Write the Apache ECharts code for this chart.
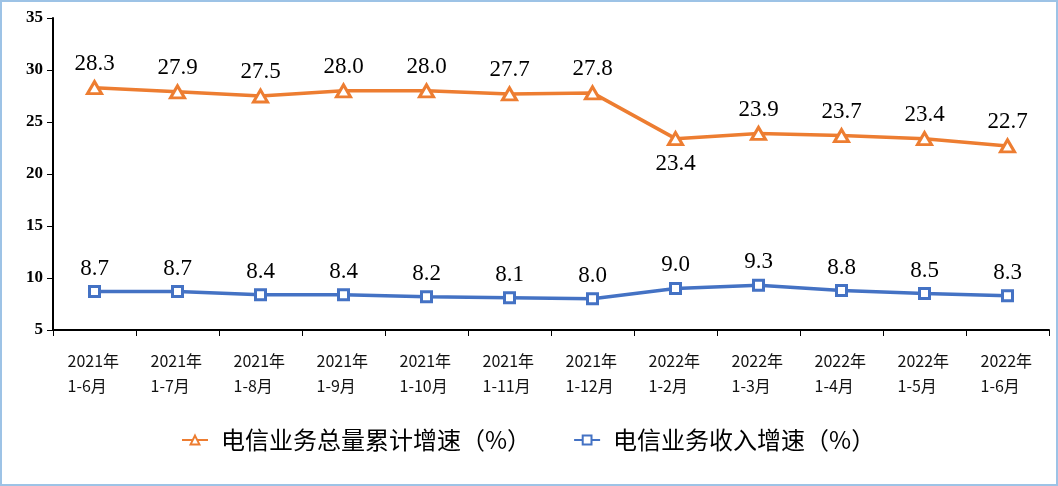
<!DOCTYPE html>
<html><head><meta charset="utf-8">
<script src="https://cdn.jsdelivr.net/npm/echarts@6/dist/echarts.min.js"></script>
<style>html,body{margin:0;padding:0;background:#fff}#c{width:1058px;height:486px;position:relative}#b{position:absolute;left:0;top:0;width:1058px;height:486px;box-sizing:border-box;border:2px solid #9DC3E6;pointer-events:none}</style>
</head><body><div id="c"></div><div id="b"></div>
<script>
const years = ['2021年','2021年','2021年','2021年','2021年','2021年','2021年','2022年','2022年','2022年','2022年','2022年'];
const periods = ['1-6月','1-7月','1-8月','1-9月','1-10月','1-11月','1-12月','1-2月','1-3月','1-4月','1-5月','1-6月'];
const totalGrowth = [28.3,27.9,27.5,28.0,28.0,27.7,27.8,23.4,23.9,23.7,23.4,22.7];
const revenueGrowth = [8.7,8.7,8.4,8.4,8.2,8.1,8.0,9.0,9.3,8.8,8.5,8.3];
const seriesNames = ['电信业务总量累计增速（%）','电信业务收入增速（%）'];
const categories = years.map((y,i)=>y+'\n'+periods[i]);

const chart = echarts.init(document.getElementById('c'));
const labelStyle = {show:true, position:'top', distance:5, fontFamily:'"Liberation Serif","Times New Roman",serif', fontSize:23, color:'#000', formatter:p=>p.value.toFixed(1)};
chart.setOption({
  animation:false,
  grid:{left:53,right:9,top:18,bottom:156},
  legend:{top:423,left:176,itemGap:42,itemWidth:26,itemHeight:11,
    textStyle:{fontFamily:'"Noto Sans CJK SC",sans-serif',fontSize:24,color:'#000',padding:[0,0,0,8]},
    data:seriesNames},
  xAxis:{type:'category',data:categories,boundaryGap:true,
    axisLine:{lineStyle:{color:'#000',width:2}},
    axisTick:{show:true,length:6,lineStyle:{color:'#000',width:1}},
    axisLabel:{margin:18,interval:0,
      formatter:v=>{const s=v.split('\n');return '{a|'+s[0]+'}\n{a|'+s[1]+'}';},
      rich:{a:{width:54,align:'left',fontFamily:'"Noto Sans CJK SC",sans-serif',fontSize:16,color:'#111',lineHeight:25}}}},
  yAxis:{type:'value',min:5,max:35,interval:5,
    axisLine:{show:true,lineStyle:{color:'#000',width:2}},
    axisTick:{show:true,length:6,lineStyle:{color:'#000',width:1}},
    splitLine:{show:false},
    axisLabel:{margin:10,fontFamily:'"Liberation Serif","Times New Roman",serif',fontSize:17,fontWeight:'bold',color:'#000'}},
  series:[
    {name:seriesNames[0],type:'line',data:totalGrowth.map((v,i)=>i===7?{value:v,label:{position:'bottom',distance:6}}:v),
      symbol:'triangle',symbolSize:[14,12],showAllSymbol:true,
      lineStyle:{color:'#ED7D31',width:3.5},
      itemStyle:{color:'#fff',borderColor:'#ED7D31',borderWidth:3},
      label:labelStyle},
    {name:seriesNames[1],type:'line',data:revenueGrowth,
      symbol:'rect',symbolSize:10,showAllSymbol:true,
      lineStyle:{color:'#4472C4',width:3.5},
      itemStyle:{color:'#fff',borderColor:'#4472C4',borderWidth:3},
      label:labelStyle}
  ]
});
</script></body></html>
